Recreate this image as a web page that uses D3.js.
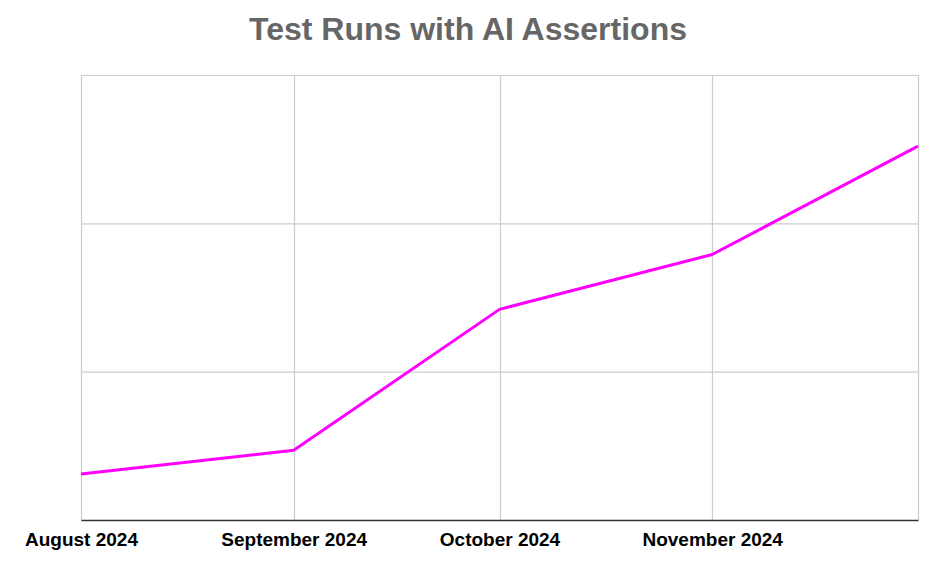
<!DOCTYPE html>
<html><head><meta charset="utf-8">
<script src="https://cdn.jsdelivr.net/npm/d3@7"></script>
<style>body{margin:0;background:#fff;} svg{display:block;}</style>
</head><body>
<svg id="chart" width="942" height="562"></svg>
<script>
const title = "Test Runs with AI Assertions";
const dates = ["2024-08-01","2024-09-01","2024-10-01","2024-11-01","2024-12-01"];
const values = [31, 47, 142, 179, 252];
const tickDates = ["2024-08-01","2024-09-01","2024-10-01","2024-11-01"];
const tickLabels = ["August 2024","September 2024","October 2024","November 2024"];
const yTicks = [0, 100, 200, 300];

const parse = d3.timeParse("%Y-%m-%d");
const svg = d3.select("#chart");
const m = {left:81, right:24, top:75, bottom:42};
const W = 942, H = 562;
const x = d3.scaleTime().domain([parse(dates[0]), parse(dates[dates.length-1])]).range([m.left, W-m.right]);
const y = d3.scaleLinear().domain([0, 300]).range([H-m.bottom, m.top]);

// horizontal grid
svg.append("g").selectAll("line").data(yTicks).join("line")
  .attr("x1", m.left).attr("x2", W-m.right)
  .attr("y1", d=>y(d)+0.5).attr("y2", d=>y(d)+0.5)
  .attr("stroke", "#cccccc").attr("stroke-width", 1.2);
// vertical grid
svg.append("g").selectAll("line").data(dates).join("line")
  .attr("x1", d=>Math.round(x(parse(d)))+0.5).attr("x2", d=>Math.round(x(parse(d)))+0.5)
  .attr("y1", m.top).attr("y2", H-m.bottom)
  .attr("stroke", "#cccccc").attr("stroke-width", 1.2);

// x axis
const xAxis = d3.axisBottom(x)
  .tickValues(tickDates.map(parse))
  .tickFormat((d,i)=>tickLabels[i])
  .tickSize(0).tickPadding(13);
const gx = svg.append("g").attr("transform", `translate(0,${H-m.bottom})`).call(xAxis);
gx.select(".domain").attr("stroke", "#333333").attr("stroke-width", 1.5);
gx.selectAll("text").attr("font-family", "Liberation Sans, Arial, sans-serif")
  .attr("font-size", 19).attr("font-weight", "bold").attr("fill", "#000");

// line
const line = d3.line().x((d,i)=>x(parse(dates[i]))).y(d=>y(d));
svg.append("path").datum(values).attr("d", line)
  .attr("fill", "none").attr("stroke", "#ff00ff").attr("stroke-width", 3)
  .attr("stroke-linejoin", "round");

// title
svg.append("text").attr("x", 468).attr("y", 40).attr("text-anchor", "middle")
  .attr("font-family", "Liberation Sans, Arial, sans-serif")
  .attr("font-size", 32).attr("font-weight", "bold").attr("fill", "#666666")
  .text(title);
</script>
</body></html>
